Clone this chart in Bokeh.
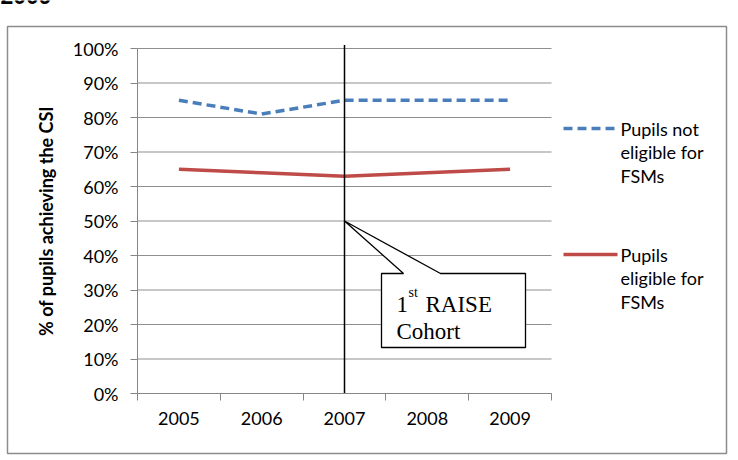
from bokeh.plotting import figure
from bokeh.models import Range1d, FixedTicker, Label
from bokeh.core.properties import value
from bokeh.embed import file_html
from bokeh.resources import INLINE

# ---- data ----
years = ["2005", "2006", "2007", "2008", "2009"]
not_eligible = [85, 81, 85, 85, 85]   # % achieving CSI, pupils not eligible for FSMs
eligible = [65, 64, 63, 64, 65]       # % achieving CSI, pupils eligible for FSMs
y_ticks = [0, 10, 20, 30, 40, 50, 60, 70, 80, 90, 100]
series_names = ["Pupils not\neligible for\nFSMs", "Pupils\neligible for\nFSMs"]
cohort_year = "2007"
cohort_pointer_value = 50
page_heading = "2009"

# ---- page geometry (pixels) ----
W, H = 738, 460
PLOT_L, PLOT_R = 137, 551      # pixel x of the category axis ends
PLOT_B, PLOT_T = 393, 48       # pixel y of 0% and 100%
n = len(years)
X_SCALE = (PLOT_R - PLOT_L) / n
Y_SCALE = (PLOT_B - PLOT_T) / 100.0


def dx(px):
    """page x pixel -> data x"""
    return (px - PLOT_L) / X_SCALE


def dy(py):
    """page y pixel -> data y"""
    return (PLOT_B - py) / Y_SCALE


xs = [i + 0.5 for i in range(n)]

# the frame fills the whole page; axes are pinned at the data origin
p = figure(width=W, height=H,
           x_range=Range1d(dx(0), dx(W)), y_range=Range1d(dy(H), dy(0)),
           output_backend="svg", toolbar_location=None,
           min_border=0, min_border_left=0, min_border_right=0,
           min_border_top=0, min_border_bottom=0)
p.outline_line_color = None
p.background_fill_color = "white"
p.border_fill_color = "white"
p.xgrid.visible = False
p.ygrid.visible = False

FONT = "Lato"
FONT_SIZE = "18px"
AXIS_GREY = "#868686"
GRID_GREY = "#8f8f8f"

# y axis
p.yaxis.fixed_location = 0
p.yaxis.ticker = FixedTicker(ticks=y_ticks)
p.yaxis.major_label_overrides = {t: f"{t}%" for t in y_ticks}
p.yaxis.bounds = (0, 100)
p.yaxis.minor_tick_line_color = None
p.yaxis.major_tick_in = 0
p.yaxis.major_tick_out = 7
p.yaxis.major_tick_line_color = AXIS_GREY
p.yaxis.axis_line_color = AXIS_GREY
p.yaxis.major_label_text_font = FONT
p.yaxis.major_label_text_font_size = FONT_SIZE
p.yaxis.major_label_text_color = "#000000"
p.yaxis.major_label_standoff = 12
p.yaxis.axis_label = "% of pupils achieving the CSI"
p.yaxis.axis_label_text_font = FONT
p.yaxis.axis_label_text_font_style = "bold"
p.yaxis.axis_label_text_font_size = "18px"
p.yaxis.axis_label_text_color = "#000000"
p.yaxis.axis_label_standoff = 13

# x axis: labels at category centres, tick marks at category boundaries
p.xaxis.fixed_location = 0
p.xaxis.ticker = FixedTicker(ticks=xs, minor_ticks=list(range(n + 1)))
p.xaxis.major_label_overrides = {x: y for x, y in zip(xs, years)}
p.xaxis.bounds = (0, n)
p.xaxis.major_tick_line_color = None
p.xaxis.major_tick_in = 0
p.xaxis.major_tick_out = 7
p.xaxis.minor_tick_in = 0
p.xaxis.minor_tick_out = 7
p.xaxis.minor_tick_line_color = AXIS_GREY
p.xaxis.axis_line_color = AXIS_GREY
p.xaxis.major_label_text_font = FONT
p.xaxis.major_label_text_font_size = FONT_SIZE
p.xaxis.major_label_text_color = "#000000"
p.xaxis.major_label_standoff = 11

# horizontal gridlines across the plot area only
p.segment(x0=[0] * len(y_ticks), x1=[n] * len(y_ticks), y0=y_ticks, y1=y_ticks,
          line_color=GRID_GREY, line_width=1)

# series
BLUE, RED = "#4a7ebb", "#be4b48"
DASH = "9 5"
p.line(xs, not_eligible, line_color=BLUE, line_width=3.5, line_dash=DASH)
p.line(xs, eligible, line_color=RED, line_width=3.5)

# vertical marker at the first RAISE cohort
cx = xs[years.index(cohort_year)]
p.segment(x0=[cx], x1=[cx], y0=[0], y1=[101], line_color="black", line_width=1.5)

# callout box with pointer
bx0, bx1 = dx(381), dx(525)
by0, by1 = dy(347), dy(273)
px0, px1 = dx(403), dx(440)
p.patch([bx0, px0, cx, px1, bx1, bx1, bx0],
        [by1, by1, cohort_pointer_value, by1, by1, by0, by0],
        fill_color="white", line_color="black", line_width=1.3)

SERIF = "Liberation Serif"
for txt, x_px, y_px, size in [("1", 396, 304, "23px"), ("st", 408, 292, "14px"),
                              ("RAISE", 425, 304, "23px"), ("Cohort", 396, 331, "23px")]:
    p.add_layout(Label(x=dx(x_px), y=dy(y_px), text=txt, text_font=SERIF,
                       text_font_size=size, text_color="#000000",
                       text_baseline="alphabetic"))

# legend beside the plot area
LINE_PITCH = 23.5
for name, colour, dash, y_px in [(series_names[0], BLUE, DASH, 128),
                                 (series_names[1], RED, "solid", 254)]:
    p.segment(x0=[dx(563)], x1=[dx(617)], y0=[dy(y_px)], y1=[dy(y_px)],
              line_color=colour, line_width=3.5, line_dash=dash)
    rows = name.split("\n")
    p.text(x=[dx(620)] * len(rows),
           y=[dy(y_px + k * LINE_PITCH) for k in range(len(rows))],
           text=rows, text_font=value(FONT), text_font_size=FONT_SIZE,
           text_color="#000000", text_baseline="middle", text_align="left")

# outer chart border
p.quad(left=[dx(7)], right=[dx(726)], top=[dy(26)], bottom=[dy(453)],
       fill_color=None, line_color="#8c8c8c", line_width=1.5)

# heading running off the top edge
p.text(x=[dx(0)], y=[dy(-5)], text=[page_heading],
       text_font=value("Liberation Sans"), text_font_style="bold",
       text_font_size="23px", text_color="#000000", text_baseline="alphabetic")

open("out.html", "w").write(file_html(p, INLINE))
